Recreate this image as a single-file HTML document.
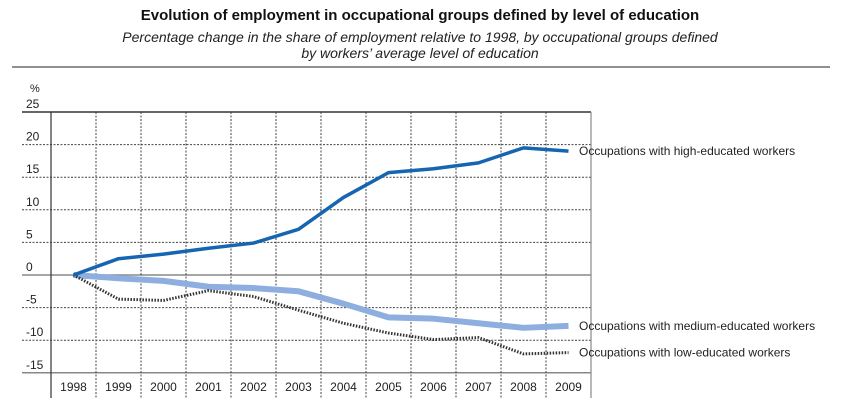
<!DOCTYPE html>
<html><head><meta charset="utf-8"><style>
body{margin:0;background:#fff;}
svg{display:block;font-family:"Liberation Sans",sans-serif;}
</style></head><body>
<svg width="841" height="403" viewBox="0 0 841 403">
<text x="420" y="20" text-anchor="middle" font-size="15" font-weight="bold" fill="#111">Evolution of employment in occupational groups defined by level of education</text>
<text x="420" y="42" text-anchor="middle" font-size="14" font-style="italic" fill="#222">Percentage change in the share of employment relative to 1998, by occupational groups defined</text>
<text x="420" y="58" text-anchor="middle" font-size="14" font-style="italic" fill="#222">by workers’ average level of education</text>
<line x1="12" y1="67" x2="830" y2="67" stroke="#222" stroke-width="1"/>
<g id="grid"></g>
<g id="series"></g>
<g id="labels"></g>
</svg>
<script>
const years=["1998","1999","2000","2001","2002","2003","2004","2005","2006","2007","2008","2009"];
const high=[0,2.5,3.2,4.1,4.9,7.0,11.9,15.7,16.3,17.2,19.5,19.0];
const medium=[0,-0.5,-0.9,-1.8,-2.0,-2.5,-4.4,-6.5,-6.7,-7.4,-8.1,-7.8];
const low=[0,-3.7,-3.9,-2.4,-3.3,-5.4,-7.4,-8.9,-9.9,-9.6,-12.1,-11.9];
const yTicks=[25,20,15,10,5,0,-5,-10,-15];
const NS="http://www.w3.org/2000/svg";
const L=51,R=591,colW=(R-L)/years.length;
function x(i){return L+colW*(i+0.5);}
function y(v){return 275-v*6.52;}
function mk(t,a,p){const e=document.createElementNS(NS,t);for(const k in a)e.setAttribute(k,a[k]);p.appendChild(e);return e;}
const g=document.getElementById('grid');
yTicks.forEach(v=>{
 const solid=(v===25||v===0||v===-15);
 const ln=mk('line',{x1:22,x2:R,y1:y(v),y2:y(v),stroke:v===25?'#333':(solid?'#888':'#444'),'stroke-width':solid?1.5:1,'stroke-dasharray':solid?'':'2,1.5'},g);
 
 
 const t=mk('text',{x:26,y:y(v)-4,'font-size':12,fill:'#222'},g);t.textContent=String(v);
 
 
});
const pct=mk('text',{x:30,y:92,'font-size':11,fill:'#222'},g);pct.textContent='%';


years.forEach((yr,i)=>{
 if(i>0){const vl=mk('line',{x1:L+colW*i,x2:L+colW*i,y1:112,y2:398,stroke:'#444','stroke-width':1,'stroke-dasharray':'2,1.5'},g);
 
 }
 const t=mk('text',{x:x(i),y:391,'font-size':12,'text-anchor':'middle',fill:'#222'},g);t.textContent=yr;
 
 
});
const la=mk('line',{x1:L,x2:L,y1:112,y2:398,stroke:'#333','stroke-width':1.2},g);


const ra=mk('line',{x1:R,x2:R,y1:112,y2:398,stroke:'#888','stroke-width':1.2},g);


const s=document.getElementById('series');
function pts(a){return a.map((v,i)=>x(i)+','+y(v)).join(' ');}
const pm=mk('polyline',{points:pts(medium),fill:'none',stroke:'#8eaee0','stroke-width':6,'stroke-linejoin':'round'},s);


const pl=mk('polyline',{points:pts(low),fill:'none',stroke:'#333','stroke-width':3,'stroke-dasharray':'1.5,1.5'},s);


const ph=mk('polyline',{points:pts(high),fill:'none',stroke:'#1565b0','stroke-width':3.5,'stroke-linejoin':'round'},s);


const lb=document.getElementById('labels');
[["Occupations with high-educated workers",high],["Occupations with medium-educated workers",medium],["Occupations with low-educated workers",low]].forEach(([txt,a])=>{
 const t=mk('text',{x:579,y:y(a[a.length-1])+4,'font-size':12,fill:'#222'},lb);t.textContent=txt;
 
 
});
</script>
</body></html>
